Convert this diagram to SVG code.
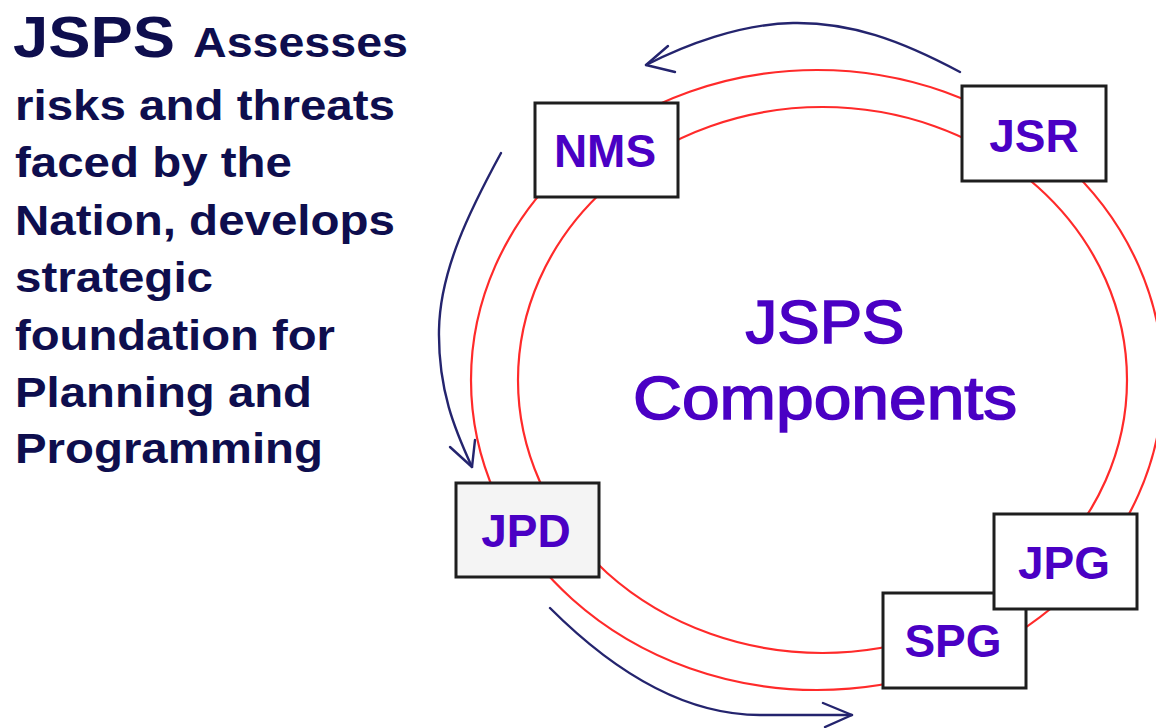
<svg xmlns="http://www.w3.org/2000/svg" width="1156" height="728" viewBox="0 0 1156 728">
<style>
.desc{font-family:"Liberation Sans",Arial,sans-serif;font-weight:bold;font-size:43px;fill:#0e0e4e}
.big{font-size:58px}
.ring{fill:none;stroke:#ff2a2a;stroke-width:2.2}
.box{fill:#ffffff;stroke:#1e1e1e;stroke-width:3}
.jpd{fill:#f4f4f4}
.lbl{font-family:"Liberation Sans",Arial,sans-serif;font-weight:bold;font-size:46px;fill:#4a00c4;text-anchor:middle}
.ctr{font-family:"Liberation Sans",Arial,sans-serif;font-size:61px;fill:#4a00c4;stroke:#4a00c4;stroke-width:1.6;text-anchor:middle}
.arr{fill:none;stroke:#24246e;stroke-width:2.4;stroke-linecap:round;stroke-linejoin:round}
</style>
<rect width="1156" height="728" fill="#ffffff"/>
<g id="description">
<text class="desc big" x="13" y="57" textLength="162" lengthAdjust="spacingAndGlyphs">JSPS</text>
<text class="desc" x="193" y="57" textLength="215" lengthAdjust="spacingAndGlyphs">Assesses</text>
<text class="desc" x="15" y="120" textLength="380" lengthAdjust="spacingAndGlyphs">risks and threats</text>
<text class="desc" x="15" y="177" textLength="277" lengthAdjust="spacingAndGlyphs">faced by the</text>
<text class="desc" x="15" y="235" textLength="380" lengthAdjust="spacingAndGlyphs">Nation, develops</text>
<text class="desc" x="15" y="292" textLength="198" lengthAdjust="spacingAndGlyphs">strategic</text>
<text class="desc" x="15" y="350" textLength="320" lengthAdjust="spacingAndGlyphs">foundation for</text>
<text class="desc" x="15" y="407" textLength="297" lengthAdjust="spacingAndGlyphs">Planning and</text>
<text class="desc" x="15" y="463" textLength="308" lengthAdjust="spacingAndGlyphs">Programming</text>
</g>
<g id="rings">
<ellipse class="ring" cx="817" cy="380" rx="346" ry="310"/>
<ellipse class="ring" cx="822.5" cy="380" rx="304.5" ry="273"/>
</g>
<g id="center-title">
<text class="ctr" x="825" y="343" textLength="159" lengthAdjust="spacingAndGlyphs">JSPS</text>
<text class="ctr" x="825" y="419" textLength="384" lengthAdjust="spacingAndGlyphs">Components</text>
</g>
<g id="node-nms">
<rect class="box" x="535" y="103" width="143" height="94"/>
<text class="lbl" x="605" y="167">NMS</text>
</g>
<g id="node-jsr">
<rect class="box" x="962" y="86" width="144" height="95"/>
<text class="lbl" x="1034" y="152">JSR</text>
</g>
<g id="node-jpd">
<rect class="box jpd" x="456" y="483" width="143" height="94"/>
<text class="lbl" x="526" y="547">JPD</text>
</g>
<g id="node-spg">
<rect class="box" x="883" y="593" width="143" height="95"/>
<text class="lbl" x="953" y="657">SPG</text>
</g>
<g id="node-jpg">
<rect class="box" x="994" y="514" width="143" height="95"/>
<text class="lbl" x="1064" y="579">JPG</text>
</g>
<g id="connectors">
<path class="arr" d="M960,72 C900,40 850,22 793,23 C740,24 685,45 646,65"/>
<path class="arr" d="M668,46 L646,65 L675,72"/>
<path class="arr" d="M501,153 C470,210 440,270 439,330 C438,390 455,430 472,467"/>
<path class="arr" d="M450,447 L472,467 L475,440"/>
<path class="arr" d="M550,608 C610,668 680,715 760,715 L852,715"/>
<path class="arr" d="M823,703 L852,715 L825,727"/>
</g>
</svg>
